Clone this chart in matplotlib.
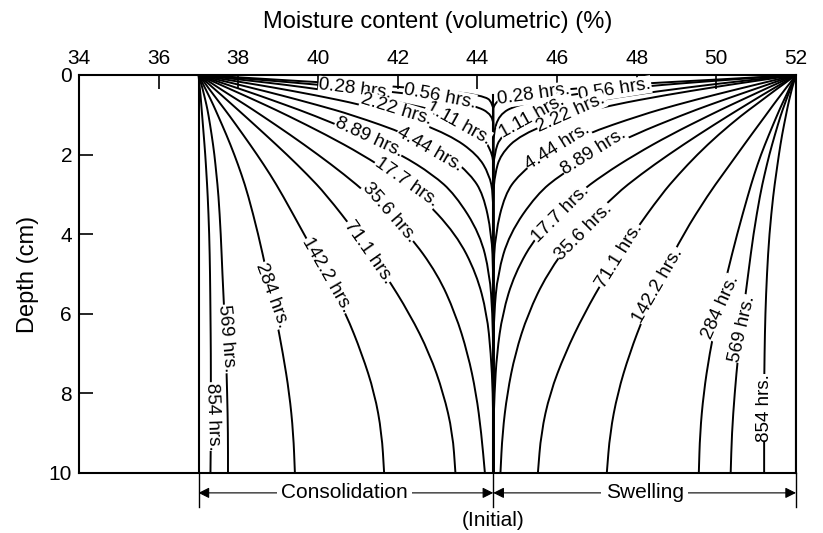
import matplotlib
matplotlib.use("Agg")
import matplotlib.pyplot as plt
from matplotlib.path import Path
from matplotlib.patches import PathPatch

plt.rcParams['font.family'] = ['Liberation Sans', 'DejaVu Sans']

depths = [0, 0.1, 0.2, 0.3, 0.5, 0.75, 1, 1.5, 2, 2.5, 3, 4, 5, 6, 7, 8, 9, 10]

time_labels = ["0.28", "0.56", "1.11", "2.22", "4.44", "8.89", "17.7",
               "35.6", "71.1", "142.2", "284", "569", "854"]

initial_moisture = 44.4
consolidation_boundary = 37.0
swelling_boundary = 52.0

# Consolidation profiles (moisture %, one list per time)
consolidation = [
    [37, 38.7, 40.3, 42.2, 44.2, 44.4, 44.4, 44.4, 44.4, 44.4, 44.4, 44.4, 44.4, 44.4, 44.4, 44.4, 44.4, 44.4],
    [37, 38.3, 39.5, 40.6, 42.6, 43.9, 44.4, 44.4, 44.4, 44.4, 44.4, 44.4, 44.4, 44.4, 44.4, 44.4, 44.4, 44.4],
    [37, 37.9, 38.8, 39.6, 41.0, 42.4, 43.3, 44.1, 44.4, 44.4, 44.4, 44.4, 44.4, 44.4, 44.4, 44.4, 44.4, 44.4],
    [37, 37.6, 38.2, 38.8, 39.9, 41.1, 42.0, 43.3, 44.0, 44.3, 44.4, 44.4, 44.4, 44.4, 44.4, 44.4, 44.4, 44.4],
    [37, 37.41, 37.83, 38.24, 39.04, 39.97, 40.85, 42.27, 43.24, 43.83, 44.15, 44.36, 44.4, 44.4, 44.4, 44.4, 44.4, 44.4],
    [37, 37.3, 37.59, 37.89, 38.48, 39.18, 39.86, 41.08, 42.08, 42.88, 43.44, 44.07, 44.31, 44.38, 44.4, 44.4, 44.4, 44.4],
    [37, 37.22, 37.45, 37.67, 38.12, 38.67, 39.2, 40.2, 41.11, 41.89, 42.54, 43.47, 43.98, 44.24, 44.34, 44.39, 44.4, 44.4],
    [37, 37.16, 37.32, 37.47, 37.78, 38.18, 38.56, 39.3, 40.0, 40.66, 41.26, 42.28, 43.0, 43.45, 43.76, 43.97, 44.1, 44.19],
    [37, 37.11, 37.23, 37.34, 37.57, 37.85, 38.13, 38.68, 39.22, 39.73, 40.2, 40.98, 41.68, 42.3, 42.8, 43.15, 43.38, 43.45],
    [37, 37.08, 37.16, 37.23, 37.38, 37.57, 37.76, 38.12, 38.47, 38.8, 39.1, 39.65, 40.2, 40.7, 41.1, 41.42, 41.6, 41.66],
    [37, 37.05, 37.1, 37.15, 37.25, 37.37, 37.48, 37.7, 37.9, 38.08, 38.24, 38.5, 38.72, 38.93, 39.12, 39.28, 39.38, 39.42],
    [37, 37.03, 37.06, 37.09, 37.14, 37.2, 37.25, 37.33, 37.4, 37.45, 37.5, 37.56, 37.6, 37.65, 37.69, 37.72, 37.74, 37.74],
    [37, 37.01, 37.02, 37.03, 37.05, 37.07, 37.09, 37.13, 37.17, 37.2, 37.23, 37.27, 37.29, 37.3, 37.31, 37.31, 37.31, 37.3],
]

# Swelling profiles (moisture %, one list per time)
swelling = [
    [52, 50.3, 48.4, 46.9, 44.7, 44.4, 44.4, 44.4, 44.4, 44.4, 44.4, 44.4, 44.4, 44.4, 44.4, 44.4, 44.4, 44.4],
    [52, 50.58, 49.25, 48.05, 46.21, 44.99, 44.54, 44.4, 44.4, 44.4, 44.4, 44.4, 44.4, 44.4, 44.4, 44.4, 44.4, 44.4],
    [52, 51.1, 50.22, 49.38, 47.87, 46.41, 45.44, 44.59, 44.42, 44.4, 44.4, 44.4, 44.4, 44.4, 44.4, 44.4, 44.4, 44.4],
    [52, 51.32, 50.64, 49.98, 48.75, 47.41, 46.36, 45.08, 44.58, 44.44, 44.4, 44.4, 44.4, 44.4, 44.4, 44.4, 44.4, 44.4],
    [52, 51.58, 51.17, 50.76, 49.95, 49.0, 48.13, 46.68, 45.68, 45.05, 44.69, 44.45, 44.4, 44.4, 44.4, 44.4, 44.4, 44.4],
    [52, 51.7, 51.41, 51.12, 50.54, 49.83, 49.16, 47.93, 46.91, 46.1, 45.49, 44.8, 44.51, 44.42, 44.4, 44.4, 44.4, 44.4],
    [52, 51.78, 51.56, 51.34, 50.91, 50.37, 49.85, 48.85, 47.96, 47.17, 46.5, 45.5, 44.93, 44.63, 44.49, 44.43, 44.4, 44.4],
    [52, 51.83, 51.67, 51.5, 51.16, 50.75, 50.34, 49.55, 48.8, 48.1, 47.47, 46.47, 45.75, 45.27, 44.95, 44.75, 44.63, 44.58],
    [52, 51.86, 51.73, 51.59, 51.32, 50.99, 50.65, 50.05, 49.52, 49.05, 48.62, 47.9, 47.25, 46.68, 46.2, 45.82, 45.6, 45.52],
    [52, 51.92, 51.85, 51.77, 51.62, 51.43, 51.25, 50.88, 50.52, 50.16, 49.8, 49.17, 48.66, 48.2, 47.82, 47.52, 47.33, 47.25],
    [52, 51.95, 51.9, 51.85, 51.76, 51.64, 51.53, 51.32, 51.12, 50.95, 50.8, 50.52, 50.27, 50.03, 49.83, 49.68, 49.59, 49.56],
    [52, 51.96, 51.92, 51.88, 51.8, 51.71, 51.62, 51.47, 51.33, 51.21, 51.1, 50.93, 50.8, 50.67, 50.55, 50.46, 50.39, 50.36],
    [52, 51.97, 51.94, 51.91, 51.86, 51.8, 51.75, 51.65, 51.57, 51.5, 51.43, 51.33, 51.27, 51.23, 51.21, 51.2, 51.2, 51.2],
]

# Inline label placement (x, depth, angle) for each time
cons_label_x = [40.93, 43.06, 43.52, 41.96, 42.8, 41.28, 42.21, 41.79, 41.26, 40.23, 38.84, 37.71, 37.35]
cons_label_d = [0.35, 0.54, 1.21, 0.86, 1.87, 1.57, 2.7, 3.46, 4.45, 5.03, 5.54, 6.63, 8.58]
cons_label_rot = [-7, -11, -29, -17, -30, -25, -35, -49, -55, -60, -70, -85, -88]
swel_label_x = [45.42, 47.45, 45.37, 46.35, 46.01, 46.93, 46.09, 46.68, 47.58, 48.54, 50.11, 50.64, 51.22]
swel_label_d = [0.5, 0.37, 1.06, 0.95, 1.8, 1.93, 3.49, 3.94, 4.55, 5.28, 5.84, 6.37, 8.37]
swel_label_rot = [8, 9, 29, 24, 32, 32, 45, 45, 58, 60, 66, 77, 90]


def smooth_curve(ax, xs, ys, **kw):
    # quadratic Bezier through the midpoints, read points act as control points
    pts = list(zip(xs, ys))
    verts = [pts[0], ((pts[0][0] + pts[1][0]) / 2, (pts[0][1] + pts[1][1]) / 2)]
    codes = [Path.MOVETO, Path.LINETO]
    for i in range(1, len(pts) - 1):
        mid = ((pts[i][0] + pts[i + 1][0]) / 2, (pts[i][1] + pts[i + 1][1]) / 2)
        verts += [pts[i], mid]
        codes += [Path.CURVE3, Path.CURVE3]
    verts.append(pts[-1])
    codes.append(Path.LINETO)
    ax.add_patch(PathPatch(Path(verts, codes), facecolor='none', **kw))


fig = plt.figure(figsize=(8.23, 5.33), dpi=100)
ax = fig.add_axes([0.096, 0.1126, 0.8712, 0.7467])

for xs in consolidation:
    smooth_curve(ax, xs, depths, edgecolor='black', linewidth=1.4)
for xs in swelling:
    smooth_curve(ax, xs, depths, edgecolor='black', linewidth=1.4)

# boundary and initial lines
ax.plot([consolidation_boundary, consolidation_boundary], [0, 10], color='black', linewidth=1.5)
ax.plot([swelling_boundary, swelling_boundary], [0, 10], color='black', linewidth=1.5)
ax.plot([initial_moisture, initial_moisture], [0.5, 10], color='black', linewidth=1.5)

box = dict(facecolor='white', edgecolor='none', pad=0.3)
for i, t in enumerate(time_labels):
    ax.text(cons_label_x[i], cons_label_d[i], t + " hrs.", rotation=cons_label_rot[i],
            rotation_mode='anchor', ha='center', va='center', fontsize=13.5, bbox=box, zorder=5)
    ax.text(swel_label_x[i], swel_label_d[i], t + " hrs.", rotation=swel_label_rot[i],
            rotation_mode='anchor', ha='center', va='center', fontsize=13.5, bbox=box, zorder=5)

ax.set_xlim(34, 52)
ax.set_ylim(10, 0)
ax.xaxis.tick_top()
ax.xaxis.set_label_position('top')
ax.set_xticks(range(34, 53, 2))
ax.set_yticks(range(0, 11, 2))
ax.tick_params(axis='both', direction='in', length=10, width=1.2, labelsize=15, pad=5)
ax.set_xlabel("Moisture content (volumetric) (%)", fontsize=17, labelpad=15)
ax.set_ylabel("Depth (cm)", fontsize=17, labelpad=7)
for s in ax.spines.values():
    s.set_linewidth(1.5)

# Consolidation / Swelling annotation under the plot
tr = ax.get_xaxis_transform()
for xb in [consolidation_boundary, initial_moisture, swelling_boundary]:
    ax.plot([xb, xb], [0, -0.085], transform=tr, color='black', linewidth=1.0, clip_on=False)
arrow = dict(arrowstyle='<|-|>', color='black', linewidth=0.8, mutation_scale=16, shrinkA=0, shrinkB=0)
ax.annotate('', xy=(consolidation_boundary, -0.05), xytext=(initial_moisture, -0.05),
            xycoords=tr, textcoords=tr, arrowprops=arrow)
ax.annotate('', xy=(initial_moisture, -0.05), xytext=(swelling_boundary, -0.05),
            xycoords=tr, textcoords=tr, arrowprops=arrow)
wb = dict(facecolor='white', edgecolor='none', pad=3)
ax.text(40.66, -0.05, "Consolidation", transform=tr, ha='center', va='center', fontsize=15, bbox=wb)
ax.text(48.2, -0.05, "Swelling", transform=tr, ha='center', va='center', fontsize=15, bbox=wb)
ax.text(initial_moisture, -0.12, "(Initial)", transform=tr, ha='center', va='center', fontsize=15)

fig.savefig("out.png", dpi=100)
